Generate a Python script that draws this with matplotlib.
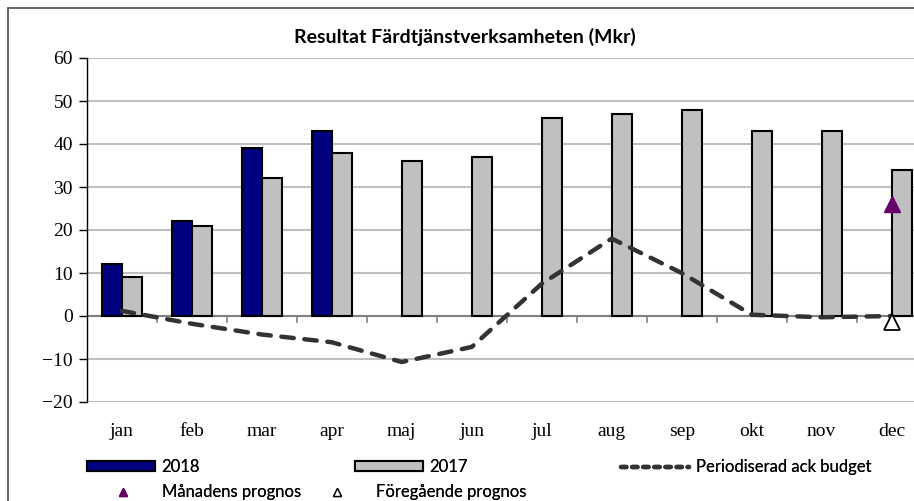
import numpy as np
import matplotlib
matplotlib.use('Agg')
import matplotlib.pyplot as plt
from matplotlib.patches import Rectangle
from matplotlib.lines import Line2D

months = ['jan', 'feb', 'mar', 'apr', 'maj', 'jun', 'jul', 'aug', 'sep', 'okt', 'nov', 'dec']
res_2018 = [12, 22, 39, 43]
res_2017 = [9, 21, 32, 38, 36, 37, 46, 47, 48, 43, 43, 34]
budget = [1.2, -1.8, -4.3, -6.1, -10.7, -7.2, 7.5, 18, 10, 0.3, -0.3, 0]
prognos = 26
prev_prognos = -1.3

W, H = 914, 501
fig = plt.figure(figsize=(W / 100, H / 100), dpi=100)

# outer frame of the chart object
fig.patches.append(Rectangle((8 / W, -0.05), 1.0, 1 - 8 / H + 0.05, transform=fig.transFigure,
                             fill=False, edgecolor='#595959', lw=1.3))

ax = fig.add_axes([86.7 / W, 99 / H, 840 / W, 344 / H])

x = np.arange(len(months))
bw = 0.286
ax.bar(x[:len(res_2018)] - bw / 2, res_2018, width=bw, color='#000080', edgecolor='black', lw=1.5, zorder=3)
ax.bar(x + bw / 2, res_2017, width=bw, color='#c0c0c0', edgecolor='black', lw=1.5, zorder=3)
ax.plot(x, budget, color='#333333', lw=3.2, linestyle=(0, (2.8, 2.4)), dash_capstyle='round', zorder=4)
ax.plot([x[-1]], [prognos], marker='^', color='#660066', markersize=12, zorder=5)
ax.plot([x[-1]], [prev_prognos], marker='^', markerfacecolor='white', markeredgecolor='black',
        markersize=12, markeredgewidth=1.3, zorder=5)

ax.set_xlim(-0.5, 11.5)
ax.set_ylim(-20, 60)
ax.set_yticks(range(-20, 61, 10))
ax.grid(axis='y', color='#c0c0c0', lw=1.5, zorder=0)
ax.axhline(0, color='#808080', lw=1.5, zorder=2)
for s in ['top', 'right', 'bottom']:
    ax.spines[s].set_visible(False)
ax.spines['left'].set_color('black')
ax.spines['left'].set_linewidth(1.0)

ax.set_xticks(x)
ax.set_xticklabels(months, fontfamily='Liberation Serif', fontsize=14)
ax.tick_params(axis='x', length=0, pad=15)
ax.tick_params(axis='y', length=6, width=1, direction='out', pad=4)
for lab in ax.get_yticklabels():
    lab.set_fontfamily('Liberation Serif')
    lab.set_fontsize(14)
# category tick marks hang from the zero line
for xb in np.arange(0.5, 12, 1):
    ax.plot([xb, xb], [0, -1.4], color='#808080', lw=1.2, zorder=2, clip_on=False)

fig.text(465 / W, 1 - 37 / H, 'Resultat Färdtjänstverksamheten (Mkr)', ha='center', va='center',
         fontfamily='Lato', fontweight='bold', fontsize=14)

# legend entries placed like the original layout
entries = [
    (Rectangle((0, 0), 1, 1, facecolor='#000080', edgecolor='black', lw=1.5), '2018', 87, 467, 4.07),
    (Rectangle((0, 0), 1, 1, facecolor='#c0c0c0', edgecolor='black', lw=1.5), '2017', 355, 467, 4.07),
    (Line2D([], [], color='#333333', lw=3.2, linestyle=(0, (1.2, 1.3)), dash_capstyle='round'),
     'Periodiserad ack budget', 621, 467, 4.07),
    (Line2D([], [], marker='^', color='#660066', markersize=6, lw=0), 'Månadens prognos', 101, 492, 2.6),
    (Line2D([], [], marker='^', markerfacecolor='white', markeredgecolor='black', markersize=6, lw=0),
     'Föregående prognos', 315, 492, 2.6),
]
for h, lab, lx, ly, hl in entries:
    leg = fig.legend([h], [lab], frameon=False, loc='center left', bbox_to_anchor=(lx / W, 1 - ly / H),
                     borderaxespad=0, borderpad=0, handlelength=hl, handleheight=0.5,
                     handletextpad=0.4 if hl > 3 else 1.04, prop={'family': 'Lato', 'size': 12})
    fig.add_artist(leg)

fig.savefig('out.png', dpi=100)
